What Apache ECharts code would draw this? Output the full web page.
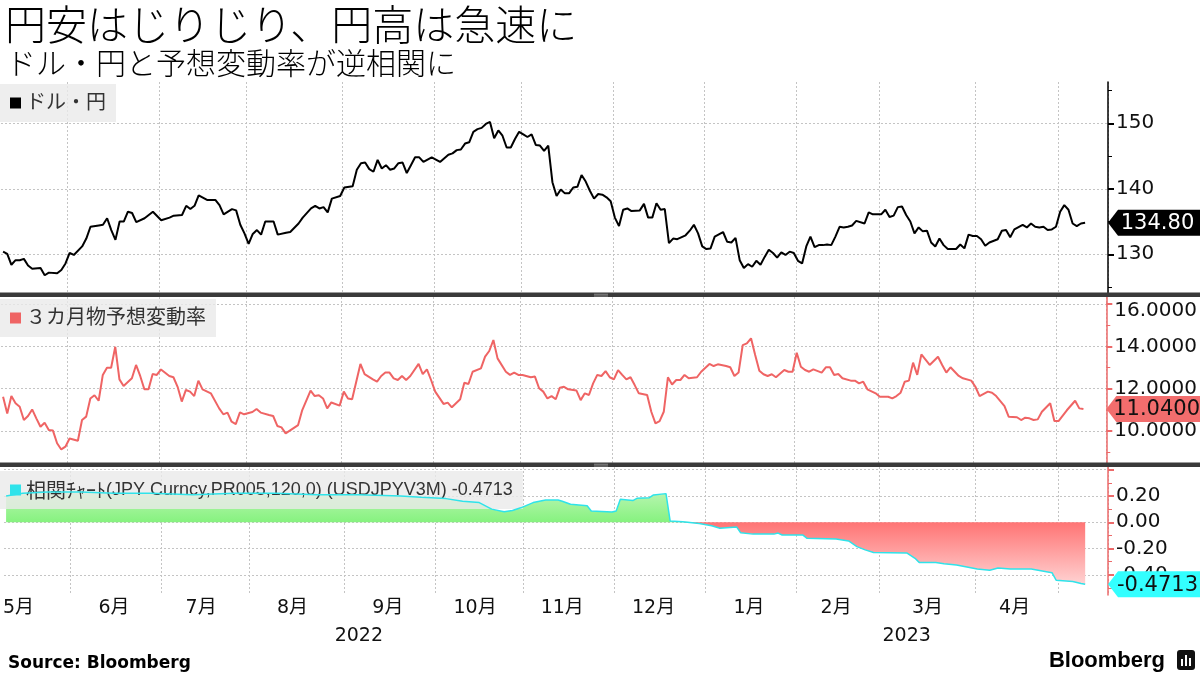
<!DOCTYPE html>
<html><head><meta charset="utf-8">
<script src="https://cdn.jsdelivr.net/npm/echarts@6/dist/echarts.min.js"></script>
<style>html,body{margin:0;padding:0;background:#fff}#c{width:1200px;height:675px}</style>
</head><body><div id="c"></div>
<script>
// ---------- text ----------
const titleText = '円安はじりじり、円高は急速に';
const subtitleText = 'ドル・円と予想変動率が逆相関に';
const sourceText = 'Source: Bloomberg';
const logoText = 'Bloomberg';
const nameUsdjpy = 'ドル・円';
const nameVol = '３カ月物予想変動率';
const nameCorr = '相関ﾁｬｰﾄ(JPY Curncy,PR005,120,0) (USDJPYV3M) -0.4713';

// ---------- categories: trading days (weekdays) ----------
const startDate = '2022-05-10';
const dayCount = 266;
const monthTickDays = ['2022-05-13','2022-06-15','2022-07-14','2022-08-15','2022-09-15','2022-10-14',
  '2022-11-14','2022-12-14','2023-01-16','2023-02-14','2023-03-16','2023-04-14'];
const yearTickDays = ['2022-09-06','2023-03-09'];

// ---------- series values: [trading-day index, value] ----------
const usdjpy = [[0,130.4],[1,130.05],[2,128.4],[3,129.1],[4,129.1],[5,129.3],[6,128.3],[7,127.8],[9,127.9],[10,126.8],
 [11,127.2],[13,127.1],[14,127.6],[15,128.6],[16,130.2],[17,129.9],[19,131.2],[20,132.4],[21,134.2],[23,134.4],
 [24,134.5],[25,135.5],[26,133.7],[27,132.2],[28,135.0],[29,135.0],[30,136.5],[31,136.3],[32,134.9],[34,135.5],
 [36,136.5],[38,135.2],[40,135.6],[41,135.9],[43,136.0],[44,137.4],[45,136.9],[46,137.4],[47,139.0],[49,138.3],
 [51,138.3],[52,137.5],[53,136.1],[55,136.9],[56,136.7],[57,134.5],[58,133.2],[59,131.6],[60,133.1],[61,133.7],
 [62,133.0],[63,135.0],[65,135.0],[66,133.0],[68,133.3],[69,133.4],[71,134.7],[72,135.6],[74,137.0],[75,137.4],
 [76,137.0],[77,137.2],[78,136.4],[79,138.5],[81,138.9],[82,140.2],[84,140.4],[85,142.9],[86,143.9],[87,144.0],
 [88,143.0],[89,142.6],[90,144.4],[91,143.1],[92,143.6],[93,142.9],[94,143.1],[95,143.9],[96,144.0],[97,142.4],
 [98,143.6],[99,144.8],[100,144.8],[101,144.1],[103,144.8],[105,144.1],[107,145.2],[108,145.4],[109,145.9],[110,146.0],
 [111,146.9],[112,147.1],[113,148.7],[114,149.1],[115,149.3],[116,149.9],[117,150.2],[118,147.7],[119,148.9],[120,148.1],
 [121,146.3],[122,146.3],[123,147.6],[124,148.7],[125,148.3],[126,147.9],[127,148.3],[128,146.7],[129,146.6],[130,145.8],
 [131,146.6],[132,141.0],[133,138.9],[134,139.9],[135,139.3],[136,139.3],[137,140.2],[138,140.3],[139,142.1],[140,141.1],
 [141,139.7],[142,138.5],[143,139.2],[144,139.1],[145,138.7],[146,138.1],[147,135.6],[148,134.3],[149,136.8],[150,137.0],
 [151,136.6],[153,136.7],[154,137.7],[155,135.6],[156,135.6],[157,137.8],[158,136.8],[159,136.9],[160,131.7],[161,132.4],
 [162,132.3],[164,132.9],[165,133.6],[166,134.5],[167,133.2],[168,131.2],[169,130.8],[170,130.9],[171,132.7],[173,133.4],
 [174,131.9],[175,131.8],[176,132.5],[177,129.1],[178,127.9],[179,128.5],[180,128.1],[181,129.0],[182,128.4],[183,129.6],
 [184,130.7],[185,130.2],[186,129.5],[187,130.3],[188,129.9],[189,130.4],[190,130.2],[191,129.0],[192,128.6],[193,131.2],
 [194,132.7],[195,131.1],[196,131.4],[197,131.4],[198,131.5],[199,131.4],[200,132.7],[201,134.2],[202,134.1],[203,134.2],
 [204,134.4],[205,135.1],[207,134.7],[208,136.4],[209,136.1],[211,136.1],[212,136.8],[213,135.7],[214,135.9],[215,137.2],
 [216,137.3],[217,136.0],[218,135.0],[219,133.2],[220,134.1],[221,133.5],[222,133.6],[223,131.8],[224,131.2],[225,132.4],
 [226,131.4],[227,130.8],[229,130.8],[230,131.5],[231,130.9],[232,133.0],[233,132.8],[234,132.8],[235,132.3],[236,131.3],
 [237,131.8],[239,132.3],[240,133.6],[241,133.7],[242,132.6],[243,133.8],[245,134.5],[246,134.1],[247,134.7],[248,134.2],
 [249,134.1],[250,134.2],[251,133.7],[252,133.8],[253,134.2],[254,136.5],[255,137.5],[256,136.8],[257,134.7],[258,134.3],
 [259,134.7],[260,134.8]];

const vol3m = [[0,11.62],[1,10.83],[2,11.65],[3,11.31],[4,11.15],[5,10.52],[6,10.71],[7,11.02],[8,10.6],[9,10.2],
 [10,10.39],[11,10.05],[12,10.02],[13,9.42],[14,9.13],[15,9.26],[16,9.65],[18,9.54],[19,10.52],[20,10.68],
 [21,11.54],[22,11.69],[23,11.43],[24,12.65],[25,12.99],[26,12.99],[27,13.98],[28,12.44],[29,12.13],[31,12.49],
 [32,13.12],[33,12.6],[34,11.97],[35,11.97],[36,12.69],[37,12.65],[38,12.91],[40,12.6],[41,12.54],[42,12.09],
 [43,11.39],[44,11.94],[45,11.86],[46,11.65],[47,12.38],[48,11.97],[50,11.78],[52,11.07],[53,10.79],[54,10.87],
 [55,10.44],[56,10.33],[57,10.88],[58,10.79],[60,10.9],[61,11.04],[62,10.87],[64,10.76],[65,10.71],[66,10.24],
 [67,10.17],[68,9.89],[69,10.02],[71,10.28],[72,10.99],[74,11.91],[75,11.65],[76,11.69],[77,11.54],[78,11.07],
 [79,11.35],[81,11.2],[82,11.86],[83,11.54],[84,11.5],[86,13.17],[87,12.69],[89,12.44],[90,12.33],[91,12.6],
 [92,12.76],[93,12.76],[94,12.49],[95,12.41],[96,12.6],[97,12.41],[98,12.6],[100,13.17],[101,12.69],[102,12.91],
 [103,12.41],[104,11.86],[106,11.28],[107,11.34],[108,11.12],[109,11.31],[110,11.5],[111,12.28],[112,12.22],[113,12.8],
 [115,12.96],[116,13.51],[117,13.78],[118,14.3],[119,13.43],[121,12.8],[122,12.65],[123,12.76],[124,12.65],[125,12.65],
 [127,12.54],[128,12.57],[129,12.02],[130,11.86],[131,11.54],[132,11.65],[133,11.5],[134,12.05],[135,12.09],[136,11.97],
 [138,11.91],[139,11.46],[140,11.78],[141,11.7],[142,12.25],[143,12.65],[144,12.6],[145,12.83],[146,12.54],[147,12.44],
 [148,12.88],[149,12.65],[150,12.44],[151,12.54],[152,12.17],[153,11.78],[155,11.7],[156,10.91],[157,10.36],[158,10.47],
 [159,10.91],[160,12.54],[161,12.2],[162,12.41],[163,12.41],[164,12.65],[165,12.49],[167,12.54],[168,12.8],[170,13.17],
 [171,13.07],[172,13.15],[174,13.07],[175,13.01],[176,12.6],[177,12.76],[178,14.06],[179,14.14],[180,14.38],[181,13.59],
 [182,12.85],[183,12.68],[184,12.6],[185,12.68],[186,12.54],[188,12.88],[189,12.8],[190,12.8],[191,13.7],[192,13.04],
 [193,12.88],[194,12.8],[195,12.91],[197,12.76],[198,13.01],[199,13.01],[200,12.65],[201,12.69],[202,12.49],[204,12.38],
 [205,12.38],[206,12.25],[207,12.33],[208,11.97],[210,11.78],[211,11.62],[213,11.62],[214,11.54],[215,11.65],[216,11.81],
 [217,12.33],[218,12.38],[219,13.23],[220,12.65],[221,13.62],[223,13.12],[225,13.51],[226,13.12],[227,12.76],[228,13.01],
 [230,12.6],[231,12.49],[233,12.38],[234,12.09],[235,11.65],[237,11.86],[238,11.81],[239,11.65],[241,11.18],[242,10.68],
 [244,10.65],[245,10.52],[246,10.63],[247,10.6],[248,10.52],[249,10.55],[250,10.91],[252,11.31],[253,10.47],[254,10.47],
 [256,10.98],[258,11.43],[259,11.07],[260,11.04]];

const corr = [[0,0.20],[4,0.22],[10,0.23],[18,0.23],[26,0.22],[35,0.22],[45,0.21],[55,0.22],[65,0.22],[75,0.21],
 [85,0.21],[95,0.20],[100,0.19],[106,0.18],[110,0.16],[114,0.15],[117,0.10],[120,0.08],[122,0.09],[124,0.11],
 [127,0.15],[130,0.17],[133,0.17],[134,0.16],[136,0.137],[140,0.126],[141,0.086],[146,0.078],[147,0.086],[148,0.175],
 [151,0.165],[152,0.182],[155,0.187],[156,0.208],[159,0.218],[160,0.01],[163,0.004],[167,-0.010],[170,-0.027],[172,-0.045],
 [176,-0.035],[177,-0.08],[180,-0.09],[185,-0.09],[186,-0.082],[187,-0.097],[192,-0.097],[193,-0.122],[200,-0.127],[203,-0.142],
 [205,-0.185],[207,-0.21],[209,-0.23],[217,-0.233],[219,-0.274],[220,-0.305],[224,-0.305],[226,-0.315],[229,-0.325],[234,-0.355],
 [237,-0.365],[239,-0.347],[242,-0.355],[247,-0.355],[252,-0.383],[253,-0.44],[257,-0.45],[259,-0.465],[260,-0.4713]];

// ---------- axis ticks ----------
const usdjpyRange = [124.09, 156.3];
const usdjpyMajor = [130, 140, 150];
const usdjpyMinor = [125, 135, 145, 155];
const volRange = [8.49, 16.33];
const volMajor = [10, 12, 14, 16];
const volMinor = [9, 11, 13, 15];
const corrRange = [-0.553, 0.4205];
const corrMajor = [-0.4, -0.2, 0, 0.2, 0.4];
const corrLabels = [-0.4, -0.2, 0, 0.2];
const corrMinor = [-0.5, -0.3, -0.1, 0.1, 0.3];

// ---------- build ----------
const days = [];
(function(){ const d = new Date(startDate + 'T00:00:00Z');
  while (days.length < dayCount) { const w = d.getUTCDay(); if (w !== 0 && w !== 6) days.push(d.toISOString().slice(0,10)); d.setUTCDate(d.getUTCDate()+1); } })();
const monthStart = new Set(); days.forEach((v,i)=>{ if (i>0 && v.slice(5,7)!==days[i-1].slice(5,7)) monthStart.add(i); });
const monthTickSet = new Set(monthTickDays.map(d=>days.indexOf(d)));
const yearTickSet = new Set(yearTickDays.map(d=>days.indexOf(d)));

const NUM_FONT = 'DejaVu Sans';
const LEG_FONT = 'Liberation Sans';
const JP_FONT = 'Noto Sans CJK JP';
const RED = '#ef6464', RED_AX = '#ec6a6a', CYAN = '#2fe3ea';
const gridDash = {color:'#c4c4c4', type:[2,2], width:1};

function xAx(gi, extra) {
  return Object.assign({type:'category', gridIndex:gi, data:days, boundaryGap:true,
    axisLine:{show:false}, axisTick:{show:false}, axisLabel:{show:false},
    splitLine:{show:true, interval:(i)=>monthStart.has(i), lineStyle:gridDash}}, extra||{});
}
function yAxes(gi, range, major, labels, minor, fmt, color, rich) {
  return [{type:'value', gridIndex:gi, position:'right', min:range[0], max:range[1],
      axisLine:{show:true, lineStyle:{color, width:1.5}},
      axisTick:{show:true, customValues:major, length:6, lineStyle:{color, width:2}},
      axisLabel:{customValues:labels, formatter:fmt, fontSize:20, color:'#111', margin:8, fontFamily:NUM_FONT, rich:rich||{}},
      splitLine:{show:true, lineStyle:gridDash}},
    {type:'value', gridIndex:gi, position:'right', min:range[0], max:range[1],
      axisLine:{show:false}, axisTick:{show:true, customValues:minor, length:4, lineStyle:{color, width:1}},
      axisLabel:{show:false}, splitLine:{show:false}}];
}
function endLabel(xi, yi, arr, fmt, bg, fg) {
  return {type:'custom', xAxisIndex:xi, yAxisIndex:yi, data:[arr[arr.length-1]], silent:true, z:20, clip:false,
    renderItem:(params, api)=>{
      const pt = api.coord([api.value(0), api.value(1)]);
      const cs = params.coordSys, x0 = cs.x + cs.width, y = pt[1], h = 26, W = api.getWidth();
      return {type:'group', children:[
        {type:'polygon', shape:{points:[[x0,y],[x0+10,y-h/2],[W,y-h/2],[W,y+h/2],[x0+10,y+h/2]]}, style:{fill:bg}},
        {type:'text', style:{text:fmt(api.value(1)), x:(x0+7+W)/2, y:y+1, align:'center', verticalAlign:'middle',
          fill:fg, font:'21px "'+NUM_FONT+'"'}}]};
    }};
}
const legendCommon = {selectedMode:false, icon:'rect', itemWidth:11, itemHeight:11, itemGap:0,
  padding:[9,10,9,10], backgroundColor:'rgba(234,234,234,0.8)',
  textStyle:{fontSize:20, color:'#333', fontFamily:LEG_FONT+', '+JP_FONT, lineHeight:20,
    rich:{j:{fontSize:20, color:'#333', fontFamily:JP_FONT, lineHeight:20},
          l:{fontSize:18, color:'#333', fontFamily:LEG_FONT, lineHeight:20}}}};
const corrLegendFormatter = (name)=>{ const k = name.indexOf('('); return '{j|'+name.slice(0,k)+'}{l|'+name.slice(k)+'}'; };

const posArea = corr.map(([i,v])=>[i, Math.max(v,0)]);
const negArea = corr.map(([i,v])=>[i, Math.min(v,0)]);

const option = {
  animation:false,
  backgroundColor:'#fff',
  textStyle:{fontFamily:NUM_FONT+', '+JP_FONT},
  title:[
    {text:titleText, left:0, top:-1, textStyle:{fontSize:41, fontWeight:300, color:'#000', fontFamily:JP_FONT}},
    {text:subtitleText, left:1, top:43, textStyle:{fontSize:30, fontWeight:300, color:'#000', fontFamily:JP_FONT}},
    {text:sourceText, left:3, top:650, textStyle:{fontSize:17, fontWeight:'bold', color:'#000', fontFamily:NUM_FONT}},
    {text:logoText, right:30, top:645, textStyle:{fontSize:22, fontWeight:'bold', color:'#000', fontFamily:'Liberation Sans'}}
  ],
  legend:[
    Object.assign({data:[nameUsdjpy], left:0, top:84}, legendCommon),
    Object.assign({data:[nameVol], left:0, top:299}, legendCommon),
    Object.assign({data:[nameCorr], left:0, top:471, formatter:corrLegendFormatter}, legendCommon)
  ],
  grid:[
    {left:1, right:92, top:82, height:211},
    {left:1, right:92, top:297, height:166},
    {left:1, right:92, top:467, height:128}
  ],
  xAxis:[
    xAx(0), xAx(1),
    xAx(2, {axisLabel:{show:true, interval:(i)=>monthTickSet.has(i), formatter:(v)=>parseInt(v.slice(5,7),10)+'月',
      fontSize:19, color:'#111', margin:4, fontFamily:NUM_FONT+', '+JP_FONT}}),
    xAx(2, {position:'bottom', offset:28, splitLine:{show:false},
      axisLabel:{show:true, interval:(i)=>yearTickSet.has(i), formatter:(v)=>v.slice(0,4),
      fontSize:19, color:'#111', margin:4, fontFamily:NUM_FONT}})
  ],
  yAxis:[
    ...yAxes(0, usdjpyRange, usdjpyMajor, usdjpyMajor, usdjpyMinor, (v)=>String(v), '#000'),
    ...yAxes(1, volRange, volMajor, volMajor, volMinor, (v)=> v===16 ? '{t|16.0000}' : v.toFixed(4), RED_AX,
      {t:{padding:[14,0,0,0], fontSize:20, color:'#111', fontFamily:NUM_FONT}}),
    ...yAxes(2, corrRange, corrMajor, corrLabels, corrMinor, (v)=>v.toFixed(2), RED_AX)
  ],
  series:[
    {name:nameUsdjpy, type:'line', xAxisIndex:0, yAxisIndex:0, data:usdjpy, showSymbol:false, color:'#000',
      lineStyle:{width:2, color:'#000'}, z:5},
    {name:nameVol, type:'line', xAxisIndex:1, yAxisIndex:2, data:vol3m, showSymbol:false, color:RED,
      lineStyle:{width:2, color:RED}, z:5},
    {type:'line', xAxisIndex:2, yAxisIndex:4, data:posArea, showSymbol:false, lineStyle:{width:0, opacity:0}, silent:true,
      areaStyle:{opacity:1, color:{type:'linear', x:0, y:0, x2:0, y2:1, colorStops:[{offset:0, color:'#b8f5b0'},{offset:1, color:'#86f27f'}]}}, z:2},
    {type:'line', xAxisIndex:2, yAxisIndex:4, data:negArea, showSymbol:false, lineStyle:{width:0, opacity:0}, silent:true,
      areaStyle:{opacity:1, color:{type:'linear', x:0, y:0, x2:0, y2:1, colorStops:[{offset:0, color:'#ff7474'},{offset:1, color:'#ffd2d2'}]}}, z:2},
    {name:nameCorr, type:'line', xAxisIndex:2, yAxisIndex:4, data:corr, showSymbol:false, color:CYAN,
      lineStyle:{width:1.5, color:CYAN}, z:5},
    endLabel(0, 0, usdjpy, (v)=>v.toFixed(2), '#000', '#fff'),
    endLabel(1, 2, vol3m, (v)=>v.toFixed(4), '#f26d6d', '#111'),
    endLabel(2, 4, corr, (v)=>v.toFixed(4), '#33ffff', '#111')
  ],
  graphic:[
    {type:'rect', shape:{x:0, y:292.5, width:1200, height:4.5}, style:{fill:'#3a3a3a'}, z:30, silent:true},
    {type:'rect', shape:{x:0, y:462.5, width:1200, height:4.5}, style:{fill:'#3a3a3a'}, z:30, silent:true},
    {type:'rect', shape:{x:594, y:293.8, width:14, height:0.8}, style:{fill:'#9a9a9a'}, z:31, silent:true},
    {type:'rect', shape:{x:594, y:295.6, width:14, height:0.8}, style:{fill:'#9a9a9a'}, z:31, silent:true},
    {type:'rect', shape:{x:594, y:463.8, width:14, height:0.8}, style:{fill:'#9a9a9a'}, z:31, silent:true},
    {type:'rect', shape:{x:594, y:465.6, width:14, height:0.8}, style:{fill:'#9a9a9a'}, z:31, silent:true},
    {type:'group', left:1177, top:650, z:30, silent:true, children:[
      {type:'rect', shape:{x:0, y:0, width:18, height:20, r:3}, style:{fill:'#111'}},
      {type:'rect', shape:{x:4, y:9, width:2, height:7}, style:{fill:'#fff'}},
      {type:'rect', shape:{x:8, y:5, width:2, height:11}, style:{fill:'#fff'}},
      {type:'rect', shape:{x:12, y:8, width:2, height:8}, style:{fill:'#fff'}}
    ]}
  ]
};
const chart = echarts.init(document.getElementById('c'), null, {renderer:'canvas', width:1200, height:675});
chart.setOption(option);
</script></body></html>
